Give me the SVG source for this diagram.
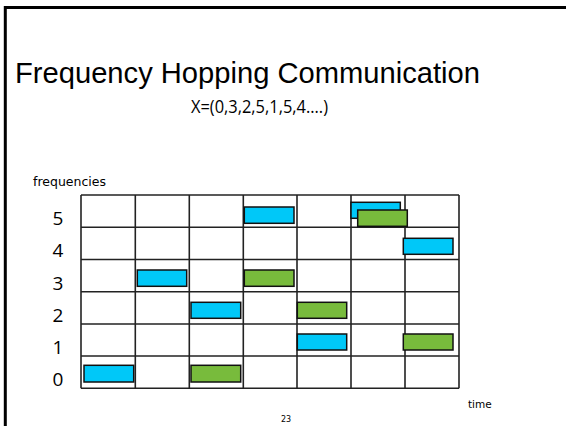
<svg xmlns="http://www.w3.org/2000/svg" width="566" height="426" viewBox="0 0 566 426">
<style>
.grid line{stroke:#222;stroke-width:1.6}
.c{fill:#00c8f8;stroke:#111;stroke-width:1.5}
.g{fill:#78bb3c;stroke:#111;stroke-width:1.5}
.lab{font-family:"DejaVu Sans","Liberation Sans",sans-serif;fill:#000}
.num{font-family:"Open Sans","DejaVu Sans",sans-serif;font-size:19px;fill:#000;text-anchor:middle}
</style>
<rect x="0" y="0" width="566" height="426" fill="#fff"/>
<path d="M5.3,426 V7.5 H566" fill="none" stroke="#000" stroke-width="3"/>
<text x="15" y="83" font-family="Liberation Sans, Arial, sans-serif" font-size="29" textLength="465" lengthAdjust="spacingAndGlyphs">Frequency Hopping Communication</text>
<text x="191" y="113" font-family="Open Sans, DejaVu Sans, sans-serif" font-size="18" textLength="137" lengthAdjust="spacingAndGlyphs">X=(0,3,2,5,1,5,4....)</text>
<text class="lab" x="33" y="186" font-size="11.5" textLength="73" lengthAdjust="spacingAndGlyphs">frequencies</text>
<g id="grid" class="grid">
<rect x="81" y="195" width="378" height="193.3" fill="#fff"/>
<line x1="81" y1="195" x2="459" y2="195"/>
<line x1="81" y1="227.2" x2="459" y2="227.2"/>
<line x1="81" y1="259.5" x2="459" y2="259.5"/>
<line x1="81" y1="291.7" x2="459" y2="291.7"/>
<line x1="81" y1="324" x2="459" y2="324"/>
<line x1="81" y1="356" x2="459" y2="356"/>
<line x1="81" y1="388.3" x2="459" y2="388.3"/>
<line x1="81" y1="195" x2="81" y2="388.3"/>
<line x1="135.3" y1="195" x2="135.3" y2="388.3"/>
<line x1="189.3" y1="195" x2="189.3" y2="388.3"/>
<line x1="243.3" y1="195" x2="243.3" y2="388.3"/>
<line x1="297" y1="195" x2="297" y2="388.3"/>
<line x1="351" y1="195" x2="351" y2="388.3"/>
<line x1="405" y1="195" x2="405" y2="388.3"/>
<line x1="459" y1="195" x2="459" y2="388.3"/>
</g>
<g id="labels">
<text class="num" x="58" y="225">5</text>
<text class="num" x="58" y="257">4</text>
<text class="num" x="58" y="289.5">3</text>
<text class="num" x="58" y="321.5">2</text>
<text class="num" x="58" y="354">1</text>
<text class="num" x="58" y="386">0</text>
</g>
<g id="hops">
<rect class="c" x="84" y="365.3" width="49.7" height="16.7"/>
<rect class="c" x="137.3" y="270" width="49.4" height="16.3"/>
<rect class="c" x="191" y="302.3" width="49.7" height="16"/>
<rect class="c" x="244.3" y="207" width="49.7" height="16.3"/>
<rect class="c" x="297.3" y="334" width="49.4" height="16"/>
<rect class="c" x="351" y="202.3" width="49.3" height="16"/>
<rect class="c" x="403.3" y="238.3" width="49.7" height="16"/>
<rect class="g" x="191" y="365.3" width="49.7" height="16.7"/>
<rect class="g" x="244.3" y="270" width="49.7" height="16.3"/>
<rect class="g" x="297.3" y="302.3" width="49.4" height="16"/>
<rect class="g" x="357.7" y="210" width="49.6" height="16.3"/>
<rect class="g" x="403.3" y="334" width="49.7" height="16"/>
</g>
<text class="lab" x="468" y="408" font-size="10.5">time</text>
<text class="lab" x="281" y="422" font-size="8">23</text>
</svg>
